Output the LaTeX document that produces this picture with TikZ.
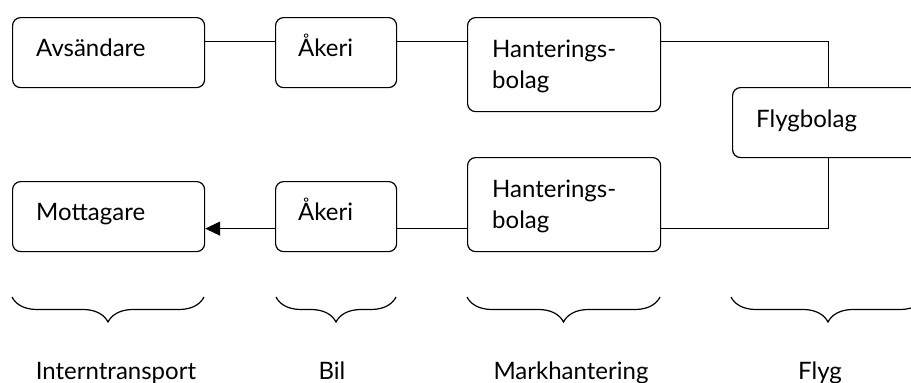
\documentclass[tikz,border=0pt]{standalone}
\usepackage{fontspec}
\setmainfont{Lato}
\usetikzlibrary{arrows.meta,decorations.pathreplacing}
\begin{document}
\begin{tikzpicture}[x=1pt,y=-1pt,
  box/.style={draw,line width=1.2pt,rounded corners=8pt,inner sep=0pt,anchor=north west},
  conn/.style={line width=1.2pt},
  txt/.style={anchor=base west,inner sep=0pt,font=\fontsize{24}{31}\selectfont},
  lab/.style={anchor=base,inner sep=0pt,font=\fontsize{24}{31}\selectfont},
  brc/.style={decorate,decoration={brace,amplitude=25pt,mirror},line width=1.2pt}]
\useasboundingbox (0,0) rectangle (911,383);
\clip (0,0) rectangle (911,383);
% boxes
\node[box,minimum width=192pt,minimum height=70pt] (avs) at (12,17) {};
\node[box,minimum width=121pt,minimum height=70pt] (ak1) at (275,17) {};
\node[box,minimum width=193pt,minimum height=94pt] (han1) at (467,17) {};
\node[box,minimum width=192pt,minimum height=70pt] (fly) at (732,87) {};
\node[box,minimum width=193pt,minimum height=94pt] (han2) at (467,157) {};
\node[box,minimum width=192pt,minimum height=70pt] (mot) at (12,181) {};
\node[box,minimum width=121pt,minimum height=70pt] (ak2) at (275,181) {};
% texts
\node[txt] (tavs) at (36,56) {Avsändare};
\node[txt] (tak1) at (298,56) {Åkeri};
\node[txt] (than1) at (492,57) {\begin{tabular}[t]{@{}l@{}}Hanterings-\\bolag\end{tabular}};
\node[txt] (tfly) at (756,127) {Flygbolag};
\node[txt] (than2) at (492,197) {\begin{tabular}[t]{@{}l@{}}Hanterings-\\bolag\end{tabular}};
\node[txt] (tmot) at (36,220) {Mottagare};
\node[txt] (tak2) at (298,220) {Åkeri};
% connectors
\draw[conn] ([yshift=11pt]avs.east) -- ([yshift=11pt]ak1.west);
\draw[conn] ([yshift=11pt]ak1.east) -- ([yshift=11pt]ak1.east -| han1.west);
\draw[conn] ([yshift=23pt]han1.east) -| (fly.north);
\draw[conn] (fly.south) |- ([yshift=-24pt]han2.east);
\draw[conn] ([yshift=-24pt]han2.west) -- ([yshift=-24pt]han2.west -| ak2.east);
\draw[conn,-{Triangle[length=15pt,width=14pt]}] ([yshift=-12pt]ak2.west) -- ([yshift=-12pt]mot.east);
% braces
\coordinate (b1a) at (12,297);  \coordinate (b1b) at (204,297);
\coordinate (b2a) at (276,297); \coordinate (b2b) at (396,297);
\coordinate (b3a) at (467,297); \coordinate (b3b) at (660,297);
\coordinate (b4a) at (731,297); \coordinate (b4b) at (925,297);
\draw[brc] (b1a) -- (b1b);
\draw[brc] (b2a) -- (b2b);
\draw[brc] (b3a) -- (b3b);
\draw[brc] (b4a) -- (b4b);
% labels
\node[lab] (l1) at (116,379) {Interntransport};
\node[lab] (l2) at (332,379) {Bil};
\node[lab] (l3) at (571,379) {Markhantering};
\node[lab] (l4) at (820,379) {Flyg};
\end{tikzpicture}
\end{document}
